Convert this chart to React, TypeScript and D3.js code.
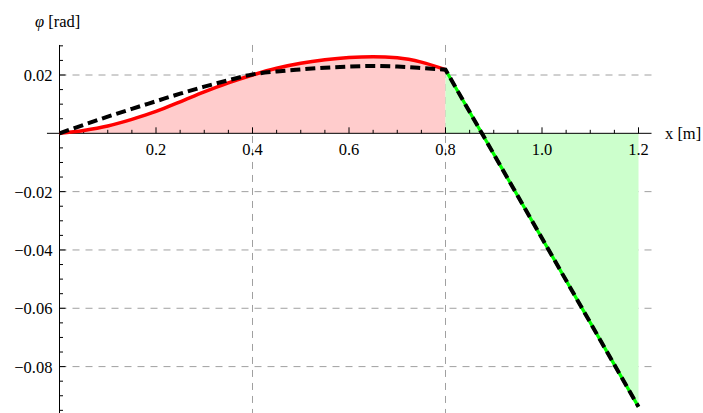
import React from "react";
import * as d3 from "d3";

// x positions along the beam [m]
const xLeft = [0, 0.05, 0.1, 0.15, 0.2, 0.25, 0.3, 0.35, 0.4, 0.45, 0.5, 0.55, 0.6, 0.65, 0.7, 0.75, 0.8];
// exact rotation (red, solid)
const phiExact = [0, 0.001, 0.0025, 0.0048, 0.0075, 0.0108, 0.0142, 0.0173, 0.02, 0.0223, 0.024, 0.0252, 0.026, 0.0263, 0.0259, 0.0244, 0.0218];
// approximate rotation (black, dashed)
const phiApprox = [0, 0.0029, 0.0057, 0.0084, 0.011, 0.0136, 0.016, 0.0182, 0.0202, 0.0212, 0.0219, 0.0225, 0.0229, 0.0231, 0.0229, 0.0224, 0.0218];
// overhang segment (green line)
const xRight = [0.8, 1.2];
const phiRight = [0.0218, -0.0938];

const xTicksMajor = [0.2, 0.4, 0.6, 0.8, 1.0, 1.2];
const xTickLabels = ["0.2", "0.4", "0.6", "0.8", "1.0", "1.2"];
const yTicksMajor = [0.02, -0.02, -0.04, -0.06, -0.08];
const yTickLabels = ["0.02", "\u22120.02", "\u22120.04", "\u22120.06", "\u22120.08"];
const xGrid = [0.4, 0.8];
const yGrid = [0.02, -0.02, -0.04, -0.06, -0.08];

const W = 703;
const H = 413;
const font = "'Liberation Serif', 'Times New Roman', serif";

export default function App() {
  const x = d3.scaleLinear().domain([0, 1.2]).range([59.5, 638.5]);
  const y = d3.scaleLinear().domain([0.02, -0.08]).range([75, 366.6]);

  const xLo = -0.026;
  const xHi = 1.227;
  const yHi = 0.0303;
  const yLo = -0.0975;

  const left = xLeft.map((v, i) => ({ x: v, exact: phiExact[i], approx: phiApprox[i] }));
  const right = xRight.map((v, i) => ({ x: v, p: phiRight[i] }));

  const areaLeft = d3
    .area<any>()
    .x((d) => x(d.x))
    .y0(y(0))
    .y1((d) => y(d.exact))
    .curve(d3.curveMonotoneX)(left);
  const areaRight = d3
    .area<any>()
    .x((d) => x(d.x))
    .y0(y(0))
    .y1((d) => y(d.p))(right);

  const lineExact = d3
    .line<any>()
    .x((d) => x(d.x))
    .y((d) => y(d.exact))
    .curve(d3.curveMonotoneX)(left);
  const lineGreen = d3
    .line<any>()
    .x((d) => x(d.x))
    .y((d) => y(d.p))(right);
  const lineApprox =
    d3
      .line<any>()
      .x((d) => x(d.x))
      .y((d) => y(d.approx))
      .curve(d3.curveMonotoneX)(left) +
    right
      .slice(1)
      .map((d) => `L${x(d.x)},${y(d.p)}`)
      .join("");

  const xMinor = d3.range(0.05, 1.226, 0.05).filter((v) => Math.abs(v / 0.2 - Math.round(v / 0.2)) > 1e-6);
  const yMinor = d3
    .range(-0.095, 0.0301, 0.005)
    .filter((v) => Math.abs(v) > 1e-6 && Math.abs(v / 0.02 - Math.round(v / 0.02)) > 1e-6);

  return (
    <svg width={W} height={H} style={{ position: "absolute", left: 0, top: 0, background: "#fff" }}>
      {/* grid */}
      <g stroke="#a0a0a0" strokeWidth={1} strokeDasharray="7,6">
        {xGrid.map((v) => (
          <line key={"gx" + v} x1={x(v)} x2={x(v)} y1={y(yHi)} y2={y(yLo)} />
        ))}
        {yGrid.map((v) => (
          <line key={"gy" + v} x1={x(0)} x2={x(xHi)} y1={y(v)} y2={y(v)} />
        ))}
      </g>

      {/* fills */}
      <path d={areaLeft || ""} fill="#ffcccc" />
      <path d={areaRight || ""} fill="#ccffcc" />

      {/* axes */}
      <g stroke="#000" strokeWidth={1}>
        <line x1={x(xLo)} x2={x(xHi)} y1={y(0)} y2={y(0)} />
        <line x1={x(0)} x2={x(0)} y1={y(yHi)} y2={y(yLo)} />
        {xTicksMajor.map((v) => (
          <line key={"xt" + v} x1={x(v)} x2={x(v)} y1={y(0)} y2={y(0) - 6} />
        ))}
        {xMinor.map((v) => (
          <line key={"xm" + v} x1={x(v)} x2={x(v)} y1={y(0)} y2={y(0) - 3.5} />
        ))}
        {yTicksMajor.map((v) => (
          <line key={"yt" + v} x1={x(0)} x2={x(0) + 6} y1={y(v)} y2={y(v)} />
        ))}
        {yMinor.map((v) => (
          <line key={"ym" + v} x1={x(0)} x2={x(0) + 3.5} y1={y(v)} y2={y(v)} />
        ))}
      </g>

      {/* tick labels */}
      <g fontFamily={font} fontSize={16.5} fill="#000">
        {xTicksMajor.map((v, i) => (
          <text key={"xl" + v} x={x(v)} y={y(0) + 21.5} textAnchor="middle">
            {xTickLabels[i]}
          </text>
        ))}
        {yTicksMajor.map((v, i) => (
          <text key={"yl" + v} x={x(0) - 7} y={y(v) + 6} textAnchor="end">
            {yTickLabels[i]}
          </text>
        ))}
        <text x={665} y={y(0) + 5.5}>x [m]</text>
        <text x={35} y={27}>
          <tspan fontStyle="italic">φ</tspan> [rad]
        </text>
      </g>

      {/* curves */}
      <path d={lineExact || ""} fill="none" stroke="#ff0000" strokeWidth={3.5} />
      <path d={lineGreen || ""} fill="none" stroke="#00ff00" strokeWidth={3.2} />
      <path d={lineApprox} fill="none" stroke="#000" strokeWidth={4} strokeDasharray="10,5" />
    </svg>
  );
}
